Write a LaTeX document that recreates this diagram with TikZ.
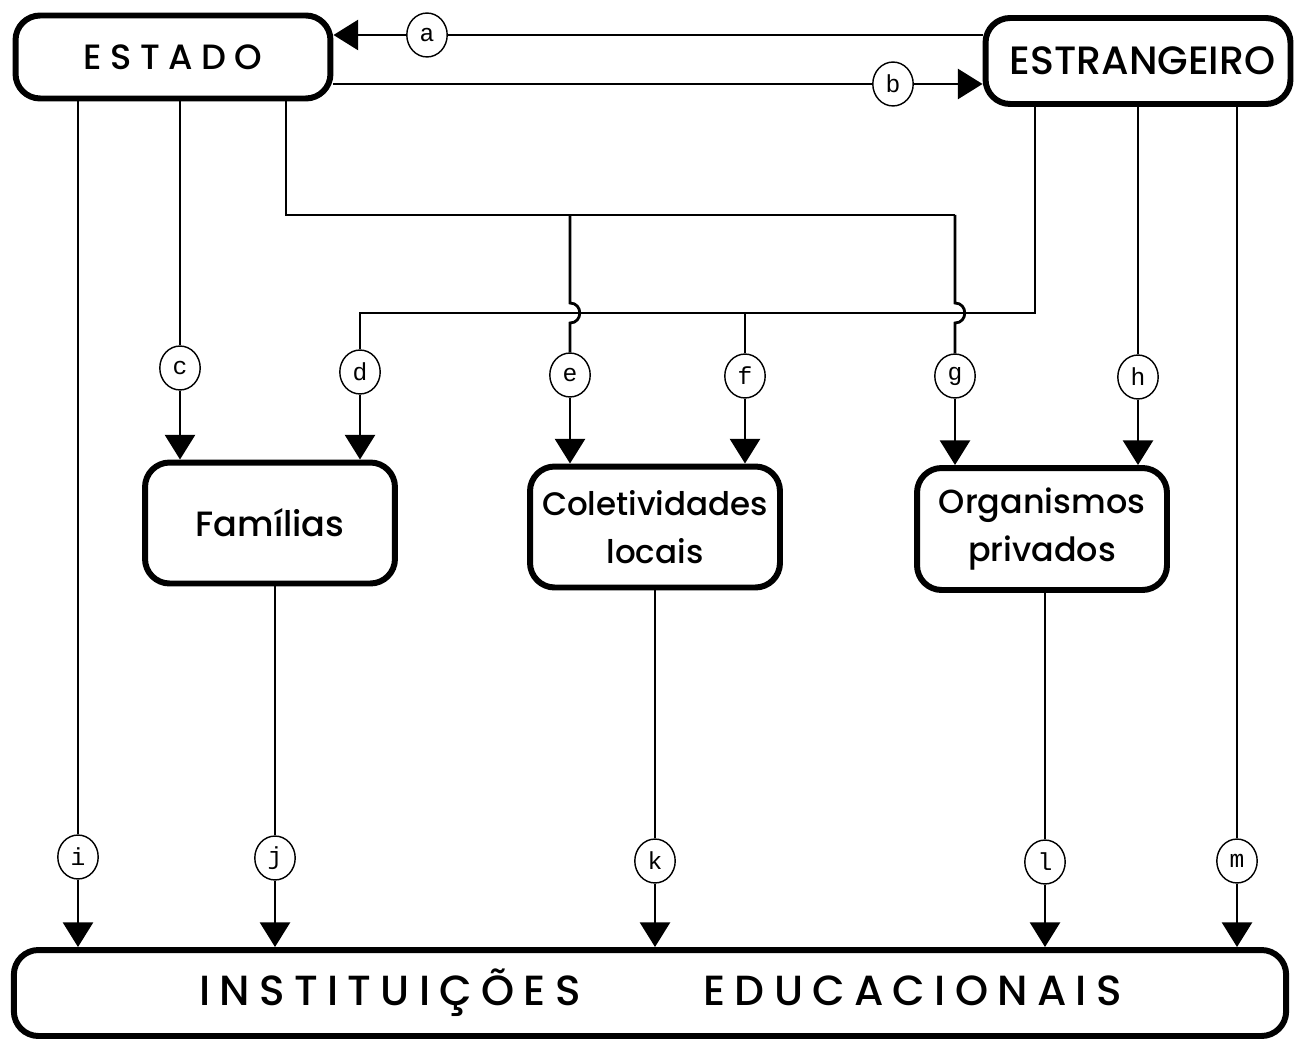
\documentclass[tikz,border=0pt]{standalone}
\usepackage{fontspec}
\setmainfont{Poppins}[UprightFont=* Medium]
\newfontfamily\lblfont{Liberation Mono}
\usetikzlibrary{calc}
\usetikzlibrary{positioning}
\usetikzlibrary{arrows.meta}
\usetikzlibrary{shapes.geometric}

\tikzset{
	box/.style={draw, line width=3.4pt, rounded corners=14pt, align=center, inner sep=0pt},
	lbl/.style={ellipse, draw, line width=0.8pt, minimum width=23pt, minimum height=25pt, inner sep=0pt, font=\lblfont\fontsize{14}{14}\selectfont},
	arr/.style={-{Triangle[width=17pt,length=14pt]}},
}

\begin{document}
\begin{tikzpicture}[x=0.02cm, y=-0.02cm, line width=1.6pt]
		\useasboundingbox (0,0) rectangle (1294,1047);

		% caixas
		\node[box, minimum width=6.3cm, minimum height=1.66cm, font=\fontsize{20}{24}\selectfont\addfontfeature{LetterSpace=24}] (estado) at (173,57) {ESTADO};
		\node[box, minimum width=6.1cm, minimum height=1.72cm, font=\fontsize{22.5}{24}\selectfont] (estr) at (1138,61) {\hspace*{5pt}ESTRANGEIRO};
		\node[box, minimum width=5.0cm, minimum height=2.42cm, font=\fontsize{20}{24}\selectfont] (fam) at (270,523) {Famílias};
		\node[box, minimum width=5.0cm, minimum height=2.42cm, font=\fontsize{18.5}{27}\selectfont] (col) at (655,527) {Coletividades\\locais};
		\node[box, minimum width=5.0cm, minimum height=2.44cm, font=\fontsize{19}{27}\selectfont] (org) at (1042,529) {Organismos\\privados};
		\node[box, minimum width=25.45cm, minimum height=1.72cm, font=\fontsize{24}{28}\selectfont\addfontfeature{LetterSpace=22}] (inst) at (650,993) {\hspace*{12pt}INSTITUIÇÕES\hspace{70pt}EDUCACIONAIS};

		\coordinate (ebus) at (286,215);
		\coordinate (dbus) at (1035,313);

		% letras
		\node[lbl] (a) at (427,35) {a};
		\node[lbl] (b) at (893,84) {b};
		\node[lbl] (c) at (180,368) {c};
		\node[lbl] (d) at (360,372) {d};
		\node[lbl] (e) at (570,375) {e};
		\node[lbl] (f) at (745,376) {f};
		\node[lbl] (g) at (955,376) {g};
		\node[lbl] (h) at (1138,377) {h};
		\node[lbl] (i) at (78,857) {i};
		\node[lbl] (j) at (275,858) {j};
		\node[lbl] (k) at (655,861) {k};
		\node[lbl] (l) at (1045,862) {l};
		\node[lbl] (m) at (1237,861) {m};

		% ligacoes
		\draw (a -| estr.west) -- (a);
		\draw[arr] (a) -- (a -| estado.east);
		\draw (b -| estado.east) -- (b);
		\draw[arr] (b) -- (b -| estr.west);

		\draw (ebus |- estado.south) -- (ebus) -- (ebus -| g);
		\draw (dbus |- estr.south) -- (dbus) -| (d);

		\draw (c |- estado.south) -- (c);
		\draw[arr] (c) -- (c |- fam.north);
		\draw[arr] (d) -- (d |- fam.north);
		\draw (e |- ebus) -- ($(e |- dbus)+(0,-10)$) .. controls +(13,0) and +(13,0) .. ($(e |- dbus)+(0,10)$) -- (e);
		\draw[arr] (e) -- (e |- col.north);
		\draw (f |- dbus) -- (f);
		\draw[arr] (f) -- (f |- col.north);
		\draw (g |- ebus) -- ($(g |- dbus)+(0,-10)$) .. controls +(13,0) and +(13,0) .. ($(g |- dbus)+(0,10)$) -- (g);
		\draw[arr] (g) -- (g |- org.north);
		\draw (h |- estr.south) -- (h);
		\draw[arr] (h) -- (h |- org.north);

		\draw (i |- estado.south) -- (i);
		\draw[arr] (i) -- (i |- inst.north);
		\draw (j |- fam.south) -- (j);
		\draw[arr] (j) -- (j |- inst.north);
		\draw (k |- col.south) -- (k);
		\draw[arr] (k) -- (k |- inst.north);
		\draw (l |- org.south) -- (l);
		\draw[arr] (l) -- (l |- inst.north);
		\draw (m |- estr.south) -- (m);
		\draw[arr] (m) -- (m |- inst.north);
\end{tikzpicture}
\end{document}
